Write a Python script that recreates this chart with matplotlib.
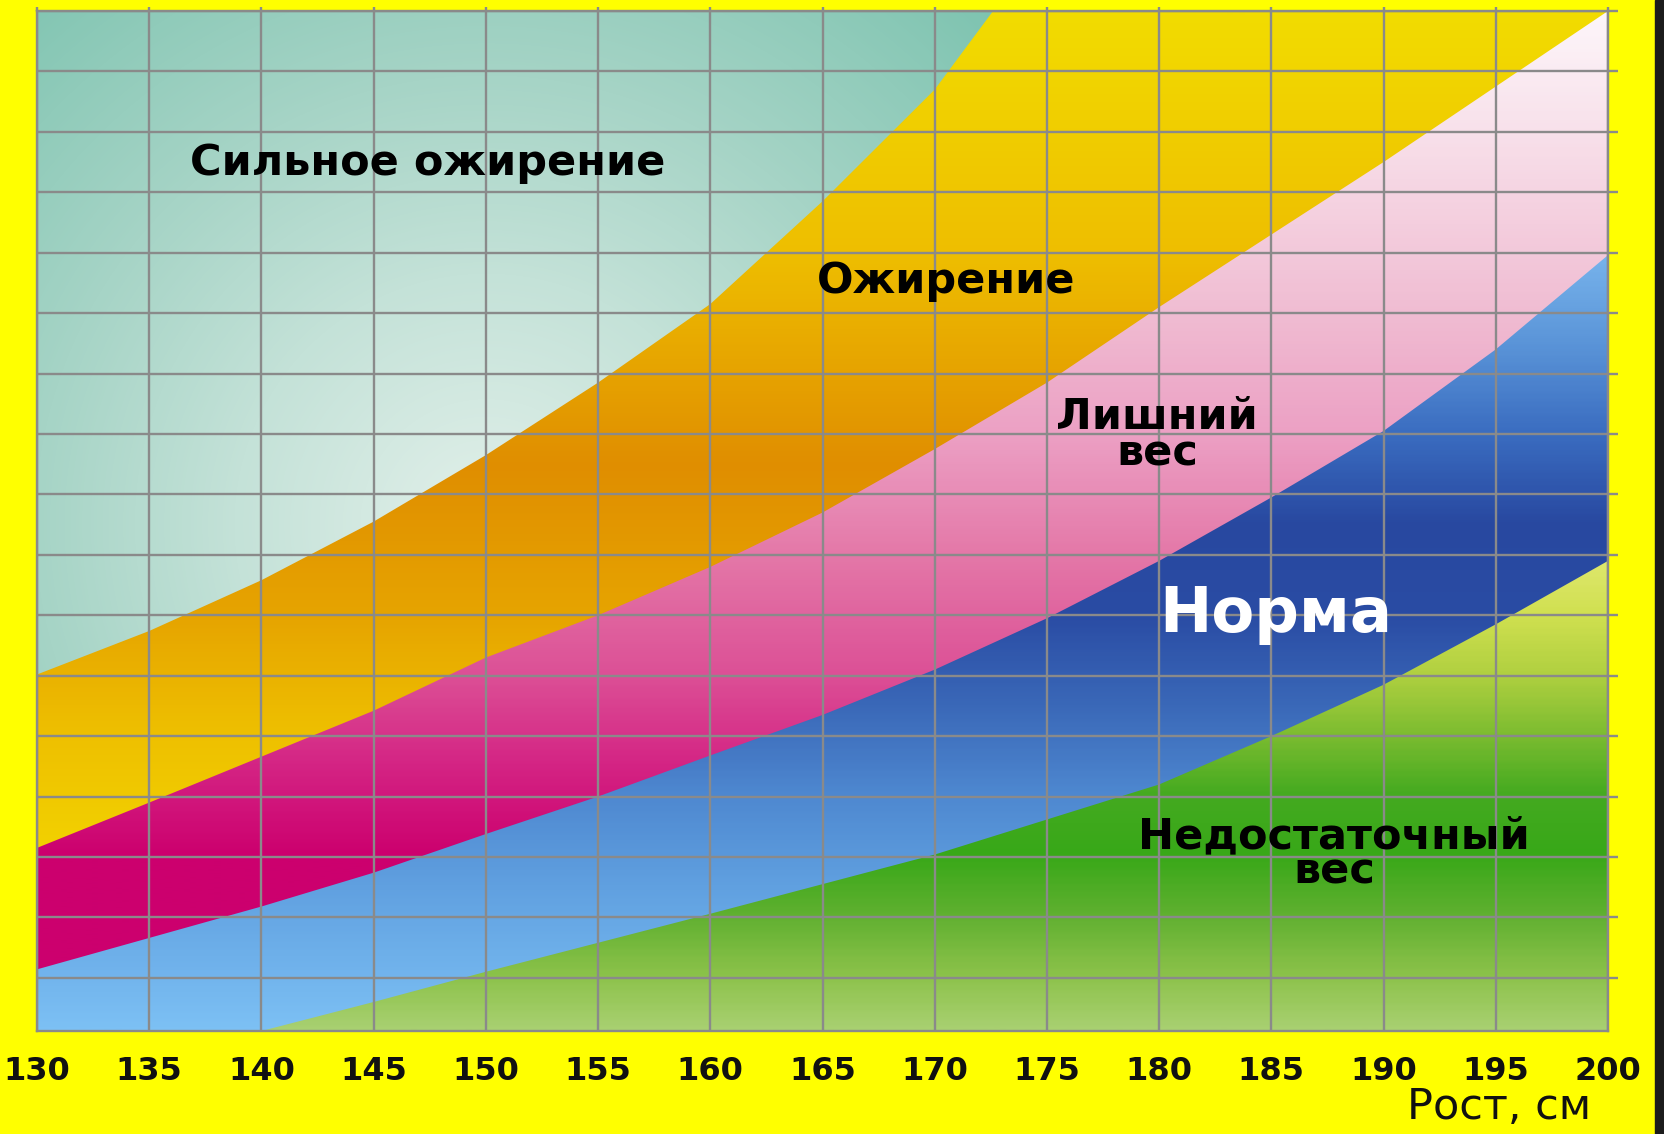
import matplotlib

matplotlib.use("Agg")
import matplotlib.pyplot as plt
import numpy as np
from matplotlib.colors import LinearSegmentedColormap
from matplotlib.patches import Rectangle

# height, cm (x axis)
HEIGHTS = [130, 135, 140, 145, 150, 155, 160, 165, 170, 175, 180, 185, 190, 195, 200]
HEIGHT_LABELS = [str(h) for h in HEIGHTS]

# band boundaries, in grid rows (chart top = 17, no weight labels on the original)
SEVERE_HEIGHTS = HEIGHTS[:10]
SEVERE_LOW = [6.02, 6.74, 7.58, 8.55, 9.65, 10.85, 12.15, 13.85, 15.7, 18.2]
OBESE_LOW = [3.15, 3.9, 4.66, 5.42, 6.3, 7.0, 7.8, 8.7, 9.75, 10.85, 12.1, 13.3, 14.5, 15.75, 17.0]
OVER_LOW = [1.14, 1.66, 2.18, 2.74, 3.38, 4.0, 4.68, 5.35, 6.1, 6.95, 7.9, 8.95, 10.05, 11.4, 12.96]
NORM_HEIGHTS = HEIGHTS[2:]
NORM_LOW = [0.12, 0.6, 1.1, 1.58, 2.06, 2.55, 3.04, 3.62, 4.2, 5.0, 5.85, 6.85, 7.9]

YMIN, YMAX = 0.12, 17.0
BG = "#ffff00"
GRID = "#8a8a8a"

# vertical colour stops (y in grid rows, colour)
ORANGE = [(0.12, "#f2d800"), (3, "#f2d200"), (5, "#eec000"), (7, "#e6a400"),
          (9.5, "#e08e00"), (13, "#eebe00"), (17, "#f2dc00")]
PINK = [(0.12, "#cc006e"), (3, "#cc006e"), (4.5, "#d42484"), (6, "#dc5096"),
        (8, "#e478a8"), (10, "#eca0c4"), (12, "#f0bcd2"), (15, "#f8e0ea"), (17, "#fdf6fa")]
BLUE = [(0.12, "#7cc0f4"), (2.5, "#60a0e0"), (4, "#4e88d0"), (5.5, "#3a68b8"),
        (7, "#2a4ca4"), (8.5, "#2848a0"), (10, "#3a6cc0"), (11.5, "#5a94d8"), (13, "#78b4ec"), (17, "#90c8f4")]
GREEN = [(0.12, "#a8d070"), (1, "#8cc24a"), (2, "#60b030"), (3, "#38a818"),
         (4, "#44aa20"), (5, "#7cbc30"), (6, "#b0d040"), (7, "#d0e050"), (8, "#e0e870"), (17, "#f0f0a0")]
TEAL = [(0, "#e2f0ea"), (250, "#c4e2d8"), (450, "#a6d4c6"), (750, "#7ac2ae")]


def cmap_from(stops, lo, hi):
    return LinearSegmentedColormap.from_list(
        "band", [((v - lo) / (hi - lo), c) for v, c in stops]
    )


def vertical_band(ax, xs, lo, hi, stops, z):
    grad = np.linspace(YMIN, YMAX, 400).reshape(-1, 1)
    im = ax.imshow(grad, extent=[130, 200, YMIN, YMAX], origin="lower", aspect="auto",
                   cmap=cmap_from(stops, YMIN, YMAX), vmin=YMIN, vmax=YMAX,
                   interpolation="bilinear", zorder=z)
    if xs is not None:
        poly = ax.fill_between(xs, lo, hi, facecolor="none", edgecolor="none")
        im.set_clip_path(poly.get_paths()[0], transform=ax.transData)
        poly.remove()
    return im


fig = plt.figure(figsize=(16.64, 11.34), dpi=100)
fig.patch.set_facecolor(BG)
ax = fig.add_axes([37 / 1664, 103 / 1134, 1571 / 1664, 1020 / 1134])

# layers, back to front
vertical_band(ax, None, None, None, ORANGE, 0.1)

xx, yy = np.meshgrid(np.linspace(130, 200, 500), np.linspace(YMIN, YMAX, 300))
dist = np.hypot((xx - 150) * 22.4, (yy - 8.5) * 60.5)
im = ax.imshow(dist, extent=[130, 200, YMIN, YMAX], origin="lower", aspect="auto",
               cmap=cmap_from(TEAL, 0, 750), vmin=0, vmax=750, interpolation="bilinear", zorder=0.2)
poly = ax.fill_between(SEVERE_HEIGHTS, SEVERE_LOW, 25, facecolor="none", edgecolor="none")
im.set_clip_path(poly.get_paths()[0], transform=ax.transData)
poly.remove()

vertical_band(ax, HEIGHTS, -1, OBESE_LOW, PINK, 0.3)
vertical_band(ax, HEIGHTS, -1, OVER_LOW, BLUE, 0.4)
vertical_band(ax, NORM_HEIGHTS, -1, NORM_LOW, GREEN, 0.5)

ax.set_xlim(130, 200)
ax.set_ylim(YMIN, YMAX)
ax.set_xticks(HEIGHTS)
ax.set_xticklabels(HEIGHT_LABELS, fontweight="bold")
ax.set_yticks(range(1, 18))
ax.grid(True, color=GRID, linewidth=1.7)
ax.set_axisbelow(False)
for s in ax.spines.values():
    s.set_color(GRID)
    s.set_linewidth(1.7)
ax.tick_params(axis="x", bottom=False, top=True, length=3, width=1.7, color=GRID,
               labelsize=23, pad=15, labelcolor="#111111")
ax.tick_params(axis="y", left=False, right=True, length=7, width=1.7, color=GRID,
               labelleft=False)

label_kw = dict(ha="center", va="center", fontweight="bold", fontsize=31,
                color="black", zorder=5, linespacing=0.82)
ax.text(147.4, 14.49, "Сильное ожирение", **label_kw)
ax.text(170.5, 12.53, "Ожирение", **label_kw)
ax.text(179.9, 9.98, "Лишний\nвес", **label_kw)
ax.text(185.2, 7.0, "Норма", **{**label_kw, "color": "white", "fontsize": 45})
ax.text(187.8, 3.05, "Недостаточный\nвес", **label_kw)

fig.text(1499 / 1664, 1 - 1119 / 1134, "Рост, см", ha="center", va="baseline",
         fontsize=31, color="#111111")
fig.patches.append(Rectangle((1655 / 1664, 0), 9 / 1664, 1, transform=fig.transFigure,
                             color="#1c1c1c", zorder=10))

fig.savefig("out.png", dpi=100, facecolor=BG)
